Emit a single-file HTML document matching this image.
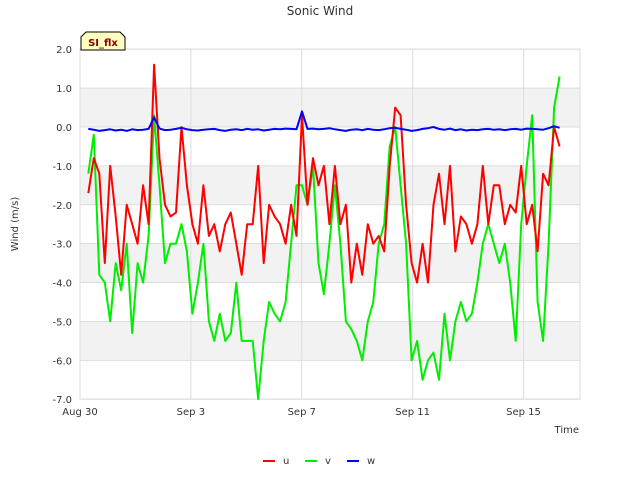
<!DOCTYPE html>
<html><head><meta charset="utf-8"><style>
body{margin:0;background:#fff;font-family:"Liberation Sans",sans-serif}
</style></head><body>
<svg id="chart" width="640" height="480" xmlns="http://www.w3.org/2000/svg" font-family="DejaVu Sans, Liberation Sans, sans-serif">
<rect width="640" height="480" fill="#fff"/>
<g id="bands"></g>
<g id="grid"></g>
<rect x="80" y="49" width="500" height="350" fill="none" stroke="#ddd"/>
<g id="series"></g>
<g id="axes" font-size="10" fill="#333"></g>
<text x="320" y="15" text-anchor="middle" font-size="12" fill="#333">Sonic Wind</text>
<text x="18" y="224" text-anchor="middle" font-size="10" fill="#333" transform="rotate(-90 18 224)">Wind (m/s)</text>
<text x="579" y="433" text-anchor="end" font-size="10" fill="#333">Time</text>
<g>
<path d="M81,50 L81,37 L86,32 L120,32 L125,37 L125,50 Z" fill="#ffffc0" stroke="#000"/>
<text x="103" y="46" text-anchor="middle" font-size="10" font-weight="bold" fill="#8b0000">SI_flx</text>
</g>
<g id="legend" font-size="10" fill="#333">
<g><line x1="263" y1="461" x2="275" y2="461" stroke="#ff0000" stroke-width="2"/><text x="283" y="464">u</text></g>
<g><line x1="305" y1="461" x2="317" y2="461" stroke="#00ee00" stroke-width="2"/><text x="325" y="464">v</text></g>
<g><line x1="347" y1="461" x2="359" y2="461" stroke="#0000ff" stroke-width="2"/><text x="367" y="464">w</text></g>
</g>
</svg>
<script>
const yTicks=[2,1,0,-1,-2,-3,-4,-5,-6,-7];
const yTickLabels=["2.0","1.0","0.0","-1.0","-2.0","-3.0","-4.0","-5.0","-6.0","-7.0"];
const xTickDays=[0,4,8,12,16];
const xTickLabels=["Aug 30","Sep 3","Sep 7","Sep 11","Sep 15"];
const tStart=0.3, tEnd=17.3;
const uVals=[-1.7,-0.8,-1.2,-3.5,-1.0,-2.3,-3.8,-2.0,-2.5,-3.0,-1.5,-2.5,1.6,-0.8,-2.0,-2.3,-2.2,0.0,-1.5,-2.5,-3.0,-1.5,-2.8,-2.5,-3.2,-2.5,-2.2,-3.0,-3.8,-2.5,-2.5,-1.0,-3.5,-2.0,-2.3,-2.5,-3.0,-2.0,-2.8,0.3,-2.0,-0.8,-1.5,-1.0,-2.5,-1.0,-2.5,-2.0,-4.0,-3.0,-3.8,-2.5,-3.0,-2.8,-3.2,-1.0,0.5,0.3,-2.0,-3.5,-4.0,-3.0,-4.0,-2.0,-1.2,-2.5,-1.0,-3.2,-2.3,-2.5,-3.0,-2.5,-1.0,-2.5,-1.5,-1.5,-2.5,-2.0,-2.2,-1.0,-2.5,-2.0,-3.2,-1.2,-1.5,0.0,-0.5];
const vVals=[-1.2,-0.2,-3.8,-4.0,-5.0,-3.5,-4.2,-3.0,-5.3,-3.5,-4.0,-2.8,0.3,-1.5,-3.5,-3.0,-3.0,-2.5,-3.2,-4.8,-4.0,-3.0,-5.0,-5.5,-4.8,-5.5,-5.3,-4.0,-5.5,-5.5,-5.5,-7.0,-5.5,-4.5,-4.8,-5.0,-4.5,-3.0,-1.5,-1.5,-2.0,-1.0,-3.5,-4.3,-3.0,-1.5,-3.0,-5.0,-5.2,-5.5,-6.0,-5.0,-4.5,-3.0,-2.5,-0.5,0.0,-1.5,-3.0,-6.0,-5.5,-6.5,-6.0,-5.8,-6.5,-4.8,-6.0,-5.0,-4.5,-5.0,-4.8,-4.0,-3.0,-2.5,-3.0,-3.5,-3.0,-4.0,-5.5,-2.5,-1.0,0.3,-4.5,-5.5,-3.0,0.5,1.3];
const wVals=[-0.05,-0.07,-0.1,-0.08,-0.06,-0.09,-0.07,-0.1,-0.06,-0.08,-0.07,-0.05,0.25,-0.04,-0.08,-0.07,-0.05,-0.02,-0.06,-0.08,-0.09,-0.07,-0.06,-0.05,-0.08,-0.1,-0.07,-0.06,-0.08,-0.05,-0.07,-0.06,-0.09,-0.07,-0.05,-0.06,-0.04,-0.05,-0.06,0.4,-0.05,-0.04,-0.06,-0.05,-0.03,-0.06,-0.08,-0.1,-0.07,-0.06,-0.08,-0.05,-0.07,-0.08,-0.06,-0.03,-0.02,-0.05,-0.07,-0.1,-0.08,-0.05,-0.03,0.0,-0.05,-0.07,-0.04,-0.08,-0.06,-0.09,-0.07,-0.08,-0.06,-0.05,-0.07,-0.06,-0.08,-0.06,-0.05,-0.07,-0.04,-0.05,-0.06,-0.07,-0.03,0.02,-0.02];
const NS="http://www.w3.org/2000/svg";
const X=d=>80+d*27.72, Y=v=>127-v*38.89;
function mk(tag,attrs,parent){const e=document.createElementNS(NS,tag);for(const k in attrs)e.setAttribute(k,attrs[k]);document.getElementById(parent).appendChild(e);return e;}
for(let i=0;i<yTicks.length-1;i++){
  if(i%2===1){const b=mk('rect',{x:80,y:Y(yTicks[i]),width:500,height:Y(yTicks[i+1])-Y(yTicks[i]),fill:'#f2f2f2'},'bands');
  
  }
}
yTicks.forEach((v,i)=>{
  const g=mk('line',{x1:80,x2:580,y1:Y(v),y2:Y(v),stroke:'#ddd'},'grid');
  
  
  const t=mk('text',{x:72,y:Y(v)+4,'text-anchor':'end'},'axes');t.textContent=yTickLabels[i];
  
  
});
xTickDays.forEach((d,i)=>{
  const g=mk('line',{x1:X(d),x2:X(d),y1:49,y2:399,stroke:'#ddd'},'grid');
  
  
  const t=mk('text',{x:X(d),y:415,'text-anchor':'middle'},'axes');t.textContent=xTickLabels[i];
  
  
});
function line(vals,color,name){
  const n=vals.length;const pts=vals.map((v,i)=>X(tStart+i*(tEnd-tStart)/(n-1)).toFixed(1)+','+Y(v).toFixed(1)).join(' ');
  const p=mk('polyline',{points:pts,fill:'none',stroke:color,'stroke-width':2,'stroke-linejoin':'round'},'series');
  
  
}
line(vVals,'#00ee00','series-v');
line(uVals,'#ff0000','series-u');
line(wVals,'#0000ff','series-w');
</script>
</body></html>
